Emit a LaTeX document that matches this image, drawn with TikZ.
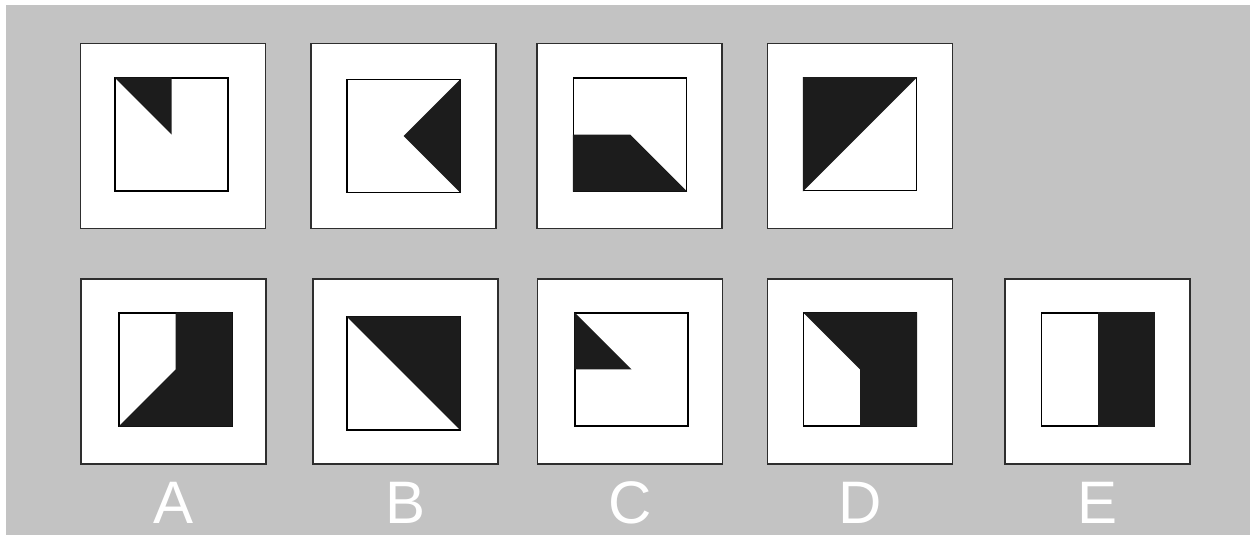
\documentclass[tikz,border=0pt]{standalone}
\usepackage{fontspec}
\setmainfont{Liberation Sans}
\usetikzlibrary{positioning}
\definecolor{bg}{HTML}{c3c3c3}
\definecolor{ink}{HTML}{1c1c1c}
\definecolor{ink2}{HTML}{2e2e2e}
\tikzset{
  outer/.style={draw=ink2,fill=white,line width=1.6pt,minimum size=185pt,inner sep=0pt},
  inner/.style={draw=black,fill=white,line width=1.2pt,minimum size=113pt,inner sep=0pt},
  blk/.style={fill=ink},
  lab/.style={text=white,font=\fontsize{60}{60}\selectfont,inner sep=0pt,anchor=base},
}
\begin{document}
\begin{tikzpicture}[x=1pt,y=-1pt]
\useasboundingbox (0,0) rectangle (1250,535);
\fill[white] (0,0) rectangle (1250,535);
\fill[bg] (6,5) rectangle (1250,535);
% top row
\node[outer] (o1) at (173,136) {};
\node[inner] (i1) at (171.5,134.5) {};
\fill[blk] (i1.north west) -- (i1.north) -- (i1.center) -- cycle;
\node[outer] (o2) at (403.5,136) {};
\node[inner] (i2) at (403.5,136) {};
\fill[blk] (i2.north east) -- (i2.center) -- (i2.south east) -- cycle;
\node[outer] (o3) at (629.7,136) {};
\node[inner] (i3) at (630,134.5) {};
\fill[blk] (i3.west) -- (i3.center) -- (i3.south east) -- (i3.south west) -- cycle;
\node[outer] (o4) at (860,136) {};
\node[inner] (i4) at (860,134.3) {};
\fill[blk] (i4.north west) -- (i4.north east) -- (i4.south west) -- cycle;
% answer row
\node[outer] (oa) at (173.2,371.7) {};
\node[inner] (ia) at (175.5,369.5) {};
\fill[blk] (ia.north) -- (ia.north east) -- (ia.south east) -- (ia.south west) -- (ia.center) -- cycle;
\node[outer] (ob) at (405.2,371.7) {};
\node[inner] (ib) at (403.5,373.5) {};
\fill[blk] (ib.north west) -- (ib.north east) -- (ib.south east) -- cycle;
\node[outer] (oc) at (629.9,371.7) {};
\node[inner] (ic) at (631.5,369.4) {};
\fill[blk] (ic.north west) -- (ic.center) -- (ic.west) -- cycle;
\node[outer] (od) at (860,371.7) {};
\node[inner] (id) at (860,369.5) {};
\fill[blk] (id.north west) -- (id.north east) -- (id.south east) -- (id.south) -- (id.center) -- cycle;
\node[outer] (oe) at (1097.7,371.7) {};
\node[inner] (ie) at (1098,369.5) {};
\fill[blk] (ie.north) -- (ie.north east) -- (ie.south east) -- (ie.south) -- cycle;
% labels
\node[lab] (la) at (oa.south |- 0,523) {A};
\node[lab] (lb) at (ob.south |- 0,523) {B};
\node[lab] (lc) at (oc.south |- 0,523) {C};
\node[lab] (ld) at (od.south |- 0,523) {D};
\node[lab] (le) at (oe.south |- 0,523) {E};
\end{tikzpicture}
\end{document}
